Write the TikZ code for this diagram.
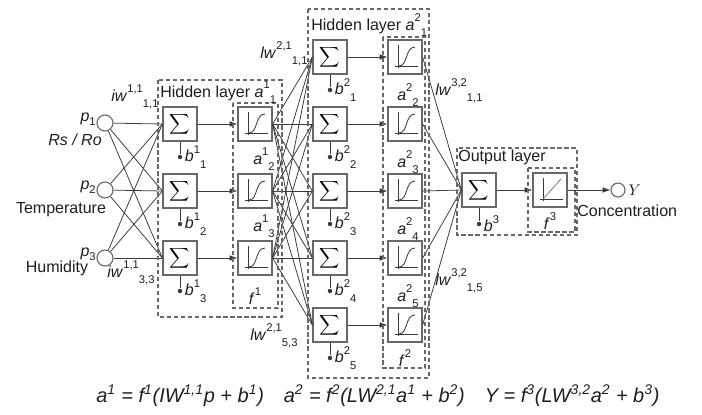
\documentclass[tikz,border=0pt]{standalone}
\usepackage{fontspec}
\setmainfont{Liberation Sans}
\usepackage{xcolor}
\usetikzlibrary{arrows.meta, positioning}
\definecolor{boxgray}{HTML}{686868}
\definecolor{linegray}{HTML}{3A3A3A}
\definecolor{txtgray}{HTML}{1E1E1E}
\newcommand{\supfont}{\fontsize{8}{9}\selectfont}
\newcommand{\sps}[3]{\textit{#1}\raisebox{.5em}{\supfont #2}\raisebox{-.42em}{\supfont #3}}
\newcommand{\psub}[2]{\textit{#1}\raisebox{-.25em}{\supfont #2}}
\newcommand{\psup}[2]{\textit{#1}\raisebox{.5em}{\supfont #2}}

\begin{document}
\begin{tikzpicture}[x=0.025cm, y=-0.025cm, >=Latex,
  sumbox/.style={draw=boxgray, line width=0.9pt, minimum size=0.85cm, inner sep=0pt},
  tfbox/.style={draw=boxgray, line width=0.9pt, minimum size=0.85cm, inner sep=0pt},
  inp/.style={draw=boxgray, circle, line width=0.8pt, minimum size=0.4cm, inner sep=0pt},
  dot/.style={fill=linegray, circle, inner sep=0pt, minimum size=3.2pt},
  wire/.style={linegray, line width=0.55pt},
  sig/.style={-{Latex[length=5.5pt,width=4pt]}, linegray, line width=0.6pt},
  layer/.style={draw=boxgray, dash pattern=on 3pt off 2pt, line width=0.75pt},
  lbl/.style={font=\fontsize{11.4}{13}\selectfont, text=txtgray, inner sep=0pt},
  big/.style={font=\fontsize{14.2}{17}\selectfont, text=txtgray, inner sep=0pt},
  sigm/.pic={
    \draw[linegray, line width=0.5pt] (-7,-12) -- (-7,11);
    \draw[linegray, line width=0.5pt] (-10,9) -- (13,9);
    \draw[linegray, line width=0.6pt] (-6,9) .. controls (3,9) and (0,-10) .. (10,-10);
  },
  linr/.pic={
    \draw[linegray, line width=0.5pt] (-7,-12) -- (-7,11);
    \draw[linegray, line width=0.5pt] (-10,9) -- (13,9);
    \draw[boxgray, line width=0.45pt] (-7,9) -- (11,-11);
  }
]
  \useasboundingbox (0,0) rectangle (702,414);

  % inputs
  \node[inp] (p1) at (105,123) {};
  \node[inp] (p2) at (105,190) {};
  \node[inp] (p3) at (105,258) {};
  \node[lbl, anchor=base east] at (96,121) {\psub{p}{1}};
  \node[lbl, anchor=base east] at (96,189) {\psub{p}{2}};
  \node[lbl, anchor=base east] at (96,256) {\psub{p}{3}};
  \node[lbl, anchor=base] at (75,145) {\textit{Rs / Ro}};
  \node[lbl, anchor=base] at (61,213) {Temperature};
  \node[lbl, anchor=base] at (57,272) {Humidity};

  % hidden layer 1
  \node[sumbox] (s11) at (180,124) {$\displaystyle\sum$};
  \node[sumbox] (s12) at (180,191) {$\displaystyle\sum$};
  \node[sumbox] (s13) at (180,258) {$\displaystyle\sum$};
  \node[tfbox] (f11) at (255,124) {};
  \node[tfbox] (f12) at (255,191) {};
  \node[tfbox] (f13) at (255,258) {};

  % hidden layer 2
  \node[sumbox] (s21) at (330,57) {$\displaystyle\sum$};
  \node[sumbox] (s22) at (330,124) {$\displaystyle\sum$};
  \node[sumbox] (s23) at (330,191) {$\displaystyle\sum$};
  \node[sumbox] (s24) at (330,258) {$\displaystyle\sum$};
  \node[sumbox] (s25) at (330,325) {$\displaystyle\sum$};
  \node[tfbox] (f21) at (405,57) {};
  \node[tfbox] (f22) at (405,124) {};
  \node[tfbox] (f23) at (405,191) {};
  \node[tfbox] (f24) at (405,258) {};
  \node[tfbox] (f25) at (405,325) {};

  % output layer
  \node[sumbox] (s31) at (479,190) {$\displaystyle\sum$};
  \node[tfbox] (f31) at (550,190) {};
  \node[inp, minimum size=0.35cm] (out) at (618,190) {};
  \node[lbl, right=2pt of out] {$Y$};
  \node[lbl, anchor=base west] at (577,216) {Concentration};

  % transfer functions
  \foreach \k in {11,12,13,21,22,23,24,25} \pic at (f\k) {sigm};
  \pic at (f31) {linr};

  % weights
  \foreach \i in {1,2,3} \foreach \j in {1,2,3} \draw[wire] (p\i) -- (s1\j.west);
  \foreach \i in {1,2,3} \foreach \j in {1,...,5} \draw[wire] (f1\i.east) -- (s2\j.west);
  \foreach \j in {1,...,5} \draw[wire] (f2\j.east) -- (s31.west);
  \foreach \j in {1,2,3} \draw[sig] (s1\j) -- (f1\j);
  \foreach \j in {1,...,5} \draw[sig] (s2\j) -- (f2\j);
  \draw[sig] (s31) -- (f31);
  \draw[sig] (f31) -- (out);

  % biases
  \node[dot] (b11) at (180,157) {};
  \node[dot] (b12) at (180,224) {};
  \node[dot] (b13) at (180,291) {};
  \node[dot] (b21) at (330,90) {};
  \node[dot] (b22) at (330,157) {};
  \node[dot] (b23) at (330,224) {};
  \node[dot] (b24) at (330,291) {};
  \node[dot] (b25) at (330,358) {};
  \node[dot] (b31) at (479,224) {};
  \foreach \k in {11,12,13,21,22,23,24,25,31} \draw[wire] (s\k) -- (b\k);
  \node[lbl, right=1.5pt of b11] {\sps{b}{1}{1}};
  \node[lbl, right=1.5pt of b12] {\sps{b}{1}{2}};
  \node[lbl, right=1.5pt of b13] {\sps{b}{1}{3}};
  \node[lbl, right=1.5pt of b21] {\sps{b}{2}{1}};
  \node[lbl, right=1.5pt of b22] {\sps{b}{2}{2}};
  \node[lbl, right=1.5pt of b23] {\sps{b}{2}{3}};
  \node[lbl, right=1.5pt of b24] {\sps{b}{2}{4}};
  \node[lbl, right=1.5pt of b25] {\sps{b}{2}{5}};
  \node[lbl, right=1.5pt of b31] {\psup{b}{3}};

  % layer frames
  \draw[layer] (158,80) rectangle (282,317);
  \draw[layer] (233,103) rectangle (278,308);
  \draw[layer] (308,9) rectangle (429,378);
  \draw[layer] (383,37) rectangle (425,368);
  \draw[layer] (457,148) rectangle (577,235);
  \draw[layer] (528,168) rectangle (575,232);
  \node[lbl, anchor=base west] at (160,97) {Hidden layer \sps{a}{1}{1}};
  \node[lbl, anchor=base west] at (311,30) {Hidden layer \sps{a}{2}{1}};
  \node[lbl, anchor=base west] at (458,161) {Output layer};
  \node[lbl, anchor=base] at (255,304) {\psup{f}{1}};
  \node[lbl, anchor=base] at (405,366) {\psup{f}{2}};
  \node[lbl, anchor=base] at (550,229) {\psup{f}{3}};

  % layer outputs
  \node[lbl, anchor=base west] at (253,164) {\sps{a}{1}{2}};
  \node[lbl, anchor=base west] at (253,231) {\sps{a}{1}{3}};
  \node[lbl, anchor=base west] at (397,100) {\sps{a}{2}{2}};
  \node[lbl, anchor=base west] at (397,167) {\sps{a}{2}{3}};
  \node[lbl, anchor=base west] at (397,234) {\sps{a}{2}{4}};
  \node[lbl, anchor=base west] at (397,301) {\sps{a}{2}{5}};

  % weight labels
  \node[lbl, anchor=base west] at (111,101) {\sps{iw}{1,1}{1,1}};
  \node[lbl, anchor=base west] at (107,277) {\sps{iw}{1,1}{3,3}};
  \node[lbl, anchor=base west] at (260,58) {\sps{lw}{2,1}{1,1}};
  \node[lbl, anchor=base west] at (250,340) {\sps{lw}{2,1}{5,3}};
  \node[lbl, anchor=base west] at (435,95) {\sps{lw}{3,2}{1,1}};
  \node[lbl, anchor=base west] at (435,285) {\sps{lw}{3,2}{1,5}};

  % equations
  \node[big, anchor=base west] at (96,402) {\itshape
    a\textsuperscript{1} = f\textsuperscript{1}(IW\textsuperscript{1,1}p + b\textsuperscript{1})\quad
    a\textsuperscript{2} = f\textsuperscript{2}(LW\textsuperscript{2,1}a\textsuperscript{1} + b\textsuperscript{2})\quad
    Y = f\textsuperscript{3}(LW\textsuperscript{3,2}a\textsuperscript{2} + b\textsuperscript{3})};
\end{tikzpicture}
\end{document}
